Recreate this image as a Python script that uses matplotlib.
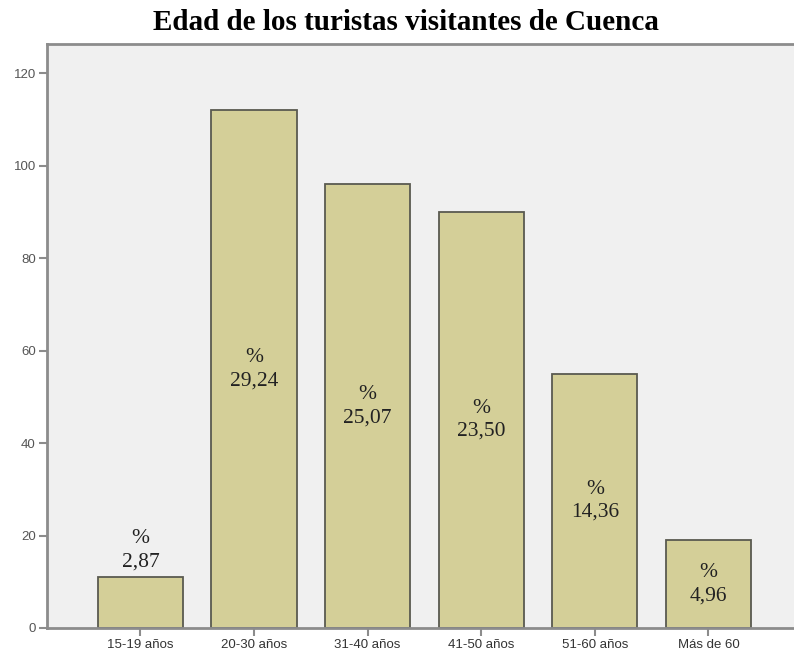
import matplotlib.pyplot as plt

# Edad de los turistas (conteos) y porcentajes mostrados en las barras
categories = ["15-19 años", "20-30 años", "31-40 años", "41-50 años", "51-60 años", "Más de 60"]
counts = [11, 112, 96, 90, 55, 19]
percent_labels = ["2,87", "29,24", "25,07", "23,50", "14,36", "4,96"]
y_ticks = [0, 20, 40, 60, 80, 100, 120]

BAR_COLOR = "#D4CF98"
EDGE_COLOR = "#5A5A50"
AXIS_COLOR = "#8C8C8C"
BG_COLOR = "#F0F0F0"

fig = plt.figure(figsize=(7.94, 6.56), dpi=100, facecolor="white")
ax = fig.add_axes([0.0592, 0.0427, 0.9408, 0.8903])
ax.set_facecolor(BG_COLOR)

x = list(range(len(categories)))
bars = ax.bar(x, counts, width=0.75, color=BAR_COLOR, edgecolor=EDGE_COLOR, linewidth=1.3)

# Etiquetas de porcentaje: dentro de la barra, o encima si la barra es pequeña
for bar, lab in zip(bars, percent_labels):
    h = bar.get_height()
    cx = bar.get_x() + bar.get_width() / 2
    if h < 15:
        ax.text(cx, h + 1.2, "%\n" + lab, ha="center", va="bottom",
                fontsize=15.5, family="Liberation Serif", color="#222222", linespacing=1.3)
    else:
        ax.text(cx, h / 2, "%\n" + lab, ha="center", va="center",
                fontsize=15.5, family="Liberation Serif", color="#222222", linespacing=1.3)

ax.set_xlim(-0.823, 5.753)
ax.set_ylim(0, 126.3)
ax.set_yticks(y_ticks)
ax.set_yticklabels([str(t) for t in y_ticks], fontsize=9.5, family="Liberation Sans", color="#555555")
ax.set_xticks(x)
ax.set_xticklabels(categories, fontsize=9.5, family="Liberation Sans", color="#333333")
ax.tick_params(axis="both", direction="out", length=6, width=1.5, color=AXIS_COLOR, pad=2)

for side in ["left", "bottom", "top"]:
    ax.spines[side].set_color(AXIS_COLOR)
    ax.spines[side].set_linewidth(2)
ax.spines["right"].set_visible(False)

fig.text(0.511, 0.966, "Edad de los turistas visitantes de Cuenca", ha="center", va="center",
         fontsize=21, fontweight="bold", family="Liberation Serif", color="black")

fig.savefig("out.png", dpi=100, facecolor="white")
